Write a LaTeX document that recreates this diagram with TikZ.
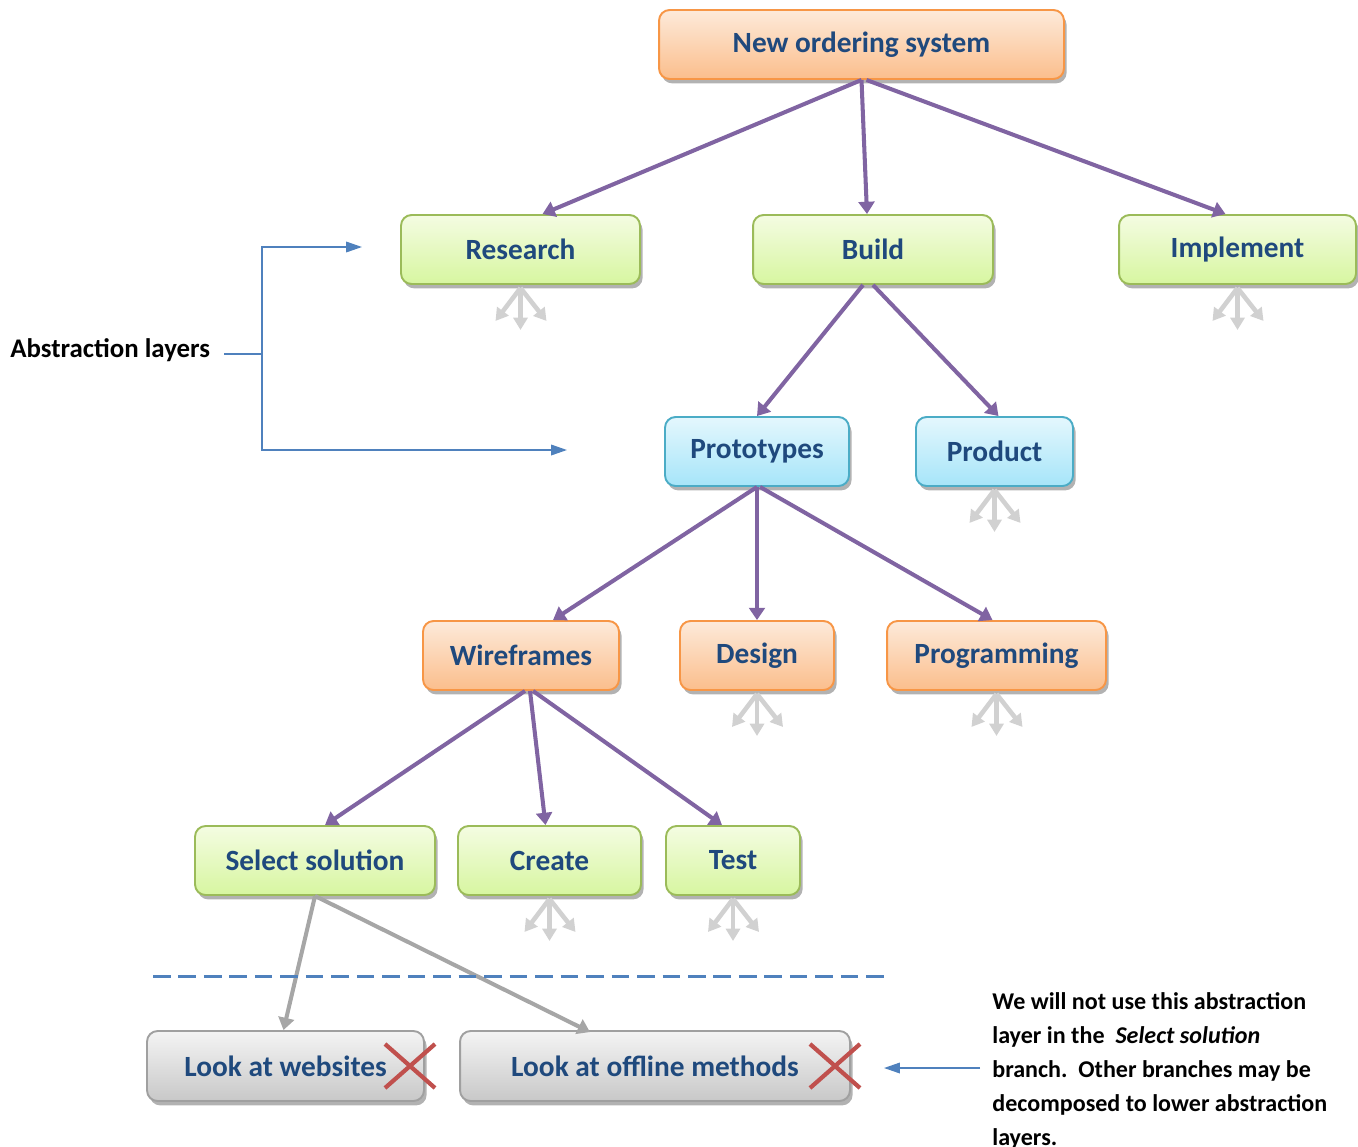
\documentclass[tikz,border=0pt]{standalone}
\usepackage{fontspec}
\setmainfont{Carlito}
\usetikzlibrary{arrows.meta,shadows}

\definecolor{boxtext}{RGB}{31,73,125}
\definecolor{linkpurple}{RGB}{128,100,162}
\definecolor{layerblue}{RGB}{79,129,189}
\definecolor{crossred}{RGB}{192,80,77}
\definecolor{orangeedge}{RGB}{247,150,70}
\definecolor{orangetop}{RGB}{253,234,218}
\definecolor{orangebot}{RGB}{251,190,140}
\definecolor{greenedge}{RGB}{155,187,89}
\definecolor{greentop}{RGB}{244,252,226}
\definecolor{greenbot}{RGB}{215,246,160}
\definecolor{blueedge}{RGB}{75,172,198}
\definecolor{bluetop}{RGB}{228,247,253}
\definecolor{bluebot}{RGB}{166,229,249}
\definecolor{grayedge}{RGB}{160,160,160}
\definecolor{graytop}{RGB}{244,244,244}
\definecolor{graybot}{RGB}{200,200,200}

\begin{document}
\begin{tikzpicture}[x=0.02cm,y=-0.02cm,
    box/.style={rounded corners=6pt, line width=1.1pt, minimum height=1.38cm,
      font=\bfseries\fontsize{16.7}{19}\selectfont, text=boxtext,
      drop shadow={shadow xshift=1.5pt, shadow yshift=-2.5pt, opacity=.3, fill=black}},
    orangebox/.style={box, draw=orangeedge, top color=orangetop, bottom color=orangebot},
    greenbox/.style={box, draw=greenedge, top color=greentop, bottom color=greenbot},
    bluebox/.style={box, draw=blueedge, top color=bluetop, bottom color=bluebot},
    graybox/.style={box, draw=grayedge, top color=graytop, bottom color=graybot, minimum height=1.4cm},
    link/.style={linkpurple, line width=2.3pt, -{Triangle[width=9pt,length=7pt]}},
    droplink/.style={black!35, line width=2.3pt, -{Triangle[width=9pt,length=7pt]}},
    fan/.style={black!18, line width=2.6pt, -{Triangle[width=8pt,length=7pt]}},
    layerline/.style={layerblue, line width=0.9pt},
    layerarrow/.style={layerline, -{Triangle[width=6pt,length=9pt]}},
    crossmark/.style={crossred, line width=2.4pt},
    remark/.style={font=\bfseries\fontsize{13.7}{19.3}\selectfont, align=left}]

    \useasboundingbox (0,0) rectangle (1358,1146);

    \node[orangebox, minimum width=8.1cm] (ordering) at (861.5,44.5) {New ordering system};

    \node[greenbox, minimum width=4.78cm] (research) at (520.5,249.5) {Research};
    \node[greenbox, minimum width=4.8cm] (build) at (873,249.5) {Build};
    \node[greenbox, minimum width=4.74cm] (implement) at (1237.5,249.5) {Implement};

    \node[bluebox, minimum width=3.68cm] (prototypes) at (757,451.5) {Prototypes};
    \node[bluebox, minimum width=3.14cm] (product) at (994.5,451.5) {Product};

    \node[orangebox, minimum width=3.92cm] (wireframes) at (521,655.5) {Wireframes};
    \node[orangebox, minimum width=3.08cm] (design) at (757,655.5) {Design};
    \node[orangebox, minimum width=4.38cm] (programming) at (996.5,655.5) {Programming};

    \node[greenbox, minimum width=4.8cm] (selectsol) at (315,860.5) {Select solution};
    \node[greenbox, minimum width=3.66cm] (create) at (549.5,860.5) {Create};
    \node[greenbox, minimum width=2.68cm] (test) at (733,860.5) {Test};

    \node[graybox, minimum width=5.54cm] (websites) at (285.5,1066) {Look at websites};
    \node[graybox, minimum width=7.8cm] (offline) at (655,1066) {Look at offline methods};

    \draw[link] (ordering.south) -- ([shift={(22,0)}]research.north);
    \draw[link] (ordering.south) -- ([shift={(-6,0)}]build.north);
    \draw[link] ([shift={(5,0)}]ordering.south) -- ([shift={(-12,0)}]implement.north);

    \draw[link] ([shift={(-10,0)}]build.south) -- (prototypes.north);
    \draw[link] (build.south) -- ([shift={(4,0)}]product.north);

    \draw[link] (prototypes.south) -- ([shift={(32,0)}]wireframes.north);
    \draw[link] (prototypes.south) -- (design.north);
    \draw[link] ([shift={(3,0)}]prototypes.south) -- ([shift={(-4,0)}]programming.north);

    \draw[link] ([shift={(4,0)}]wireframes.south) -- ([shift={(10,0)}]selectsol.north);
    \draw[link] ([shift={(9,0)}]wireframes.south) -- ([shift={(-4,0)}]create.north);
    \draw[link] ([shift={(12,0)}]wireframes.south) -- ([shift={(-11,0)}]test.north);

    \draw[droplink] (selectsol.south) -- ([shift={(-2,0)}]websites.north);
    \draw[droplink] (selectsol.south) -- ([shift={(-65,2)}]offline.north);

    \foreach \leaf in {research,implement,product,design,programming,create,test}
      \foreach \dx/\dy in {-25/33,0/42,26/33}
        \draw[fan] ([shift={(0,3)}]\leaf.south) -- ++(\dx,\dy);

    \coordinate (cutleft) at (153,976);
    \coordinate (cutright) at (888,976);
    \draw[layerblue, line width=1.7pt, dash pattern=on 10pt off 4.5pt] (cutleft) -- (cutright);

    \coordinate (webcross) at (410,1066);
    \coordinate (offcross) at (835,1066);
    \foreach \cross in {webcross,offcross}
      \draw[crossmark] (\cross) ++(-25,-22) -- ++(50,44) (\cross) ++(-25,22) -- ++(50,-44);

    \node[remark, font=\bfseries\fontsize{15.3}{18}\selectfont, anchor=west, inner sep=0pt] (abslabel) at (10,350) {Abstraction layers};
    \coordinate (absstart) at (224,354);
    \coordinate (absjoin) at (262,354);
    \coordinate (layerone) at (362,247);
    \coordinate (layertwo) at (567,450);
    \draw[layerline] (absstart) -- (absjoin);
    \draw[layerarrow] (absjoin) |- (layerone);
    \draw[layerarrow] (absjoin) |- (layertwo);

    \node[remark, anchor=west, inner xsep=0.24cm, inner ysep=0pt] (remarknote) at (980,1071)
      {We will not use this abstraction\\layer in the \ \textit{Select solution}\\branch.\ \ Other branches may be\\decomposed to lower abstraction\\layers.};
    \coordinate (remarktip) at (884,1068);
    \draw[layerarrow] ([shift={(0,-3)}]remarknote.west) -- (remarktip);
\end{tikzpicture}
\end{document}
